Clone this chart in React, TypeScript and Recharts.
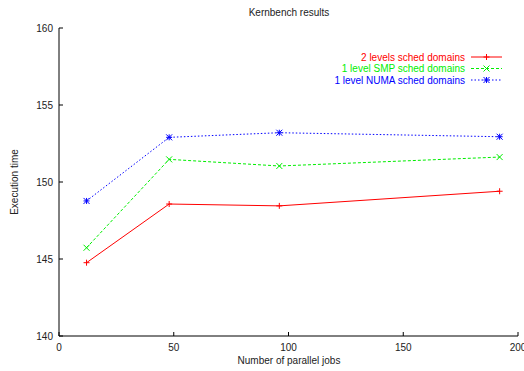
import React from 'react';
import { LineChart, Line, XAxis, YAxis } from 'recharts';

const jobs = [12, 48, 96, 192];
const twoLevels = [144.76, 148.57, 148.45, 149.4];
const oneLevelSmp = [145.73, 151.47, 151.04, 151.62];
const oneLevelNuma = [148.77, 152.9, 153.2, 152.94];
const xTicks = [0, 50, 100, 150, 200];
const yTicks = [140, 145, 150, 155, 160];

const data = jobs.map((j, i) => ({
  jobs: j,
  two: twoLevels[i],
  smp: oneLevelSmp[i],
  numa: oneLevelNuma[i],
}));

const FONT = 'Liberation Sans, Arial, Helvetica, sans-serif';

const series = [
  { key: 'two', name: '2 levels sched domains', color: '#ff0000', dash: undefined, marker: 'plus' },
  { key: 'smp', name: '1 level SMP sched domains', color: '#00ee00', dash: '3 2', marker: 'cross' },
  { key: 'numa', name: '1 level NUMA sched domains', color: '#0000ff', dash: '1.5 2', marker: 'star' },
];

const Marker = ({ cx, cy, color, kind }: any) => {
  if (cx == null || cy == null) return null;
  const s = 3;
  const plus = (
    <>
      <line x1={cx - s} y1={cy} x2={cx + s} y2={cy} stroke={color} strokeWidth={1} />
      <line x1={cx} y1={cy - s} x2={cx} y2={cy + s} stroke={color} strokeWidth={1} />
    </>
  );
  const cross = (
    <>
      <line x1={cx - s} y1={cy - s} x2={cx + s} y2={cy + s} stroke={color} strokeWidth={1} />
      <line x1={cx - s} y1={cy + s} x2={cx + s} y2={cy - s} stroke={color} strokeWidth={1} />
    </>
  );
  return (
    <g>
      {kind !== 'cross' && plus}
      {kind !== 'plus' && cross}
    </g>
  );
};

const BottomTick = ({ x, y, payload }: any) => (
  <g>
    <line x1={x} y1={y} x2={x} y2={y - 4} stroke="#000" />
    <text x={x} y={y + 15} textAnchor="middle" fontSize={10} fontFamily={FONT} fill="#222">
      {payload.value}
    </text>
  </g>
);

const LeftTick = ({ x, y, payload }: any) => (
  <g>
    <line x1={x} y1={y} x2={x + 4} y2={y} stroke="#000" />
    <text x={x - 6} y={y + 3.5} textAnchor="end" fontSize={10} fontFamily={FONT} fill="#222">
      {payload.value}
    </text>
  </g>
);

const TopTick = ({ x, y }: any) => <line x1={x} y1={y} x2={x} y2={y + 4} stroke="#000" />;
const RightTick = ({ x, y }: any) => <line x1={x} y1={y} x2={x - 4} y2={y} stroke="#000" />;

const LegendBox = () => (
  <svg width={160} height={40} style={{ position: 'absolute', left: 359, top: 51, overflow: 'visible' }}>
    {series.map((s, i) => {
      const cy = 6 + i * 11.5;
      return (
        <g key={s.key}>
          <text x={106} y={cy + 3.5} textAnchor="end" fontSize={10} fontFamily={FONT} fill={s.color}>
            {s.name}
          </text>
          <line x1={112} y1={cy} x2={143} y2={cy} stroke={s.color} strokeDasharray={s.dash} />
          <Marker cx={127.5} cy={cy} color={s.color} kind={s.marker} />
        </g>
      );
    })}
  </svg>
);

export default function App() {
  return (
    <div style={{ position: 'absolute', left: 0, top: 0, width: 524, height: 371, background: '#fff', overflow: 'hidden' }}>
      <LineChart width={524} height={371} data={data} margin={{ top: 28, right: 6, left: 0, bottom: 0 }}>
        <XAxis
          dataKey="jobs"
          type="number"
          domain={[0, 200]}
          ticks={xTicks}
          interval={0}
          height={35}
          tickSize={0}
          tickMargin={0}
          tickLine={false}
          tick={<BottomTick />}
          axisLine={{ stroke: '#000' }}
          allowDataOverflow
        />
        <XAxis
          xAxisId="top"
          orientation="top"
          type="number"
          domain={[0, 200]}
          ticks={xTicks}
          interval={0}
          height={0}
          tickSize={0}
          tickMargin={0}
          tickLine={false}
          tick={<TopTick />}
          axisLine={{ stroke: '#000' }}
          allowDataOverflow
        />
        <YAxis
          type="number"
          domain={[140, 160]}
          ticks={yTicks}
          interval={0}
          width={59}
          tickSize={0}
          tickMargin={0}
          tickLine={false}
          tick={<LeftTick />}
          axisLine={{ stroke: '#000' }}
          allowDataOverflow
        />
        <YAxis
          yAxisId="right"
          orientation="right"
          type="number"
          domain={[140, 160]}
          ticks={yTicks}
          interval={0}
          width={0}
          tickSize={0}
          tickMargin={0}
          tickLine={false}
          tick={<RightTick />}
          axisLine={{ stroke: '#000' }}
          allowDataOverflow
        />
        {series.map((s) => (
          <Line
            key={s.key}
            dataKey={s.key}
            name={s.name}
            type="linear"
            stroke={s.color}
            strokeWidth={1}
            strokeDasharray={s.dash}
            dot={(p: any) => <Marker key={`${s.key}-${p.index}`} cx={p.cx} cy={p.cy} color={s.color} kind={s.marker} />}
            isAnimationActive={false}
          />
        ))}
      </LineChart>
      <LegendBox />
      <div style={{ position: 'absolute', left: 0, width: 524, top: 7, textAlign: 'center', fontFamily: FONT, fontSize: 10, color: '#222', paddingLeft: 54, boxSizing: 'border-box' }}>
        Kernbench results
      </div>
      <div style={{ position: 'absolute', left: 0, width: 524, top: 355, textAlign: 'center', fontFamily: FONT, fontSize: 10, color: '#222', paddingLeft: 54, boxSizing: 'border-box' }}>
        Number of parallel jobs
      </div>
      <div style={{ position: 'absolute', left: 14, top: 182, transform: 'translate(-50%, -50%) rotate(-90deg)', whiteSpace: 'nowrap', fontFamily: FONT, fontSize: 10, color: '#222' }}>
        Execution time
      </div>
    </div>
  );
}
